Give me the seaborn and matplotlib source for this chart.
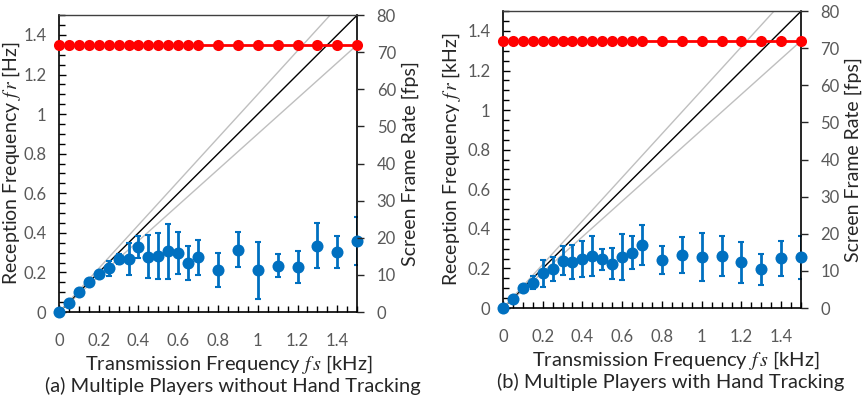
import numpy as np
import pandas as pd
import seaborn as sns
from matplotlib import pyplot as plt
from matplotlib.ticker import MultipleLocator

# transmission frequencies [kHz]
fs = [0, 0.05, 0.1, 0.15, 0.2, 0.25, 0.3, 0.35, 0.4, 0.45, 0.5, 0.55, 0.6, 0.65, 0.7,
      0.8, 0.9, 1.0, 1.1, 1.2, 1.3, 1.4, 1.5]

# (a) without hand tracking
fr_a = [0, 0.047, 0.1, 0.15, 0.19, 0.22, 0.27, 0.267, 0.33, 0.28, 0.284, 0.306, 0.297, 0.247, 0.276,
        0.213, 0.314, 0.21, 0.235, 0.227, 0.336, 0.302, 0.36]
err_a = [0, 0, 0, 0, 0, 0.04, 0.025, 0.08, 0.055, 0.11, 0.115, 0.138, 0.105, 0.085, 0.09,
         0.085, 0.088, 0.142, 0.057, 0.082, 0.113, 0.08, 0.12]
fps_a = [72] * 23

# (b) with hand tracking
fr_b = [0, 0.047, 0.103, 0.129, 0.175, 0.197, 0.239, 0.234, 0.247, 0.263, 0.247, 0.225, 0.259, 0.28, 0.319,
        0.242, 0.268, 0.259, 0.263, 0.231, 0.195, 0.251, 0.256]
err_b = [0, 0, 0, 0.034, 0.068, 0.062, 0.074, 0.085, 0.091, 0.103, 0.053, 0.077, 0.117, 0.082, 0.102,
         0.072, 0.09, 0.12, 0.102, 0.104, 0.077, 0.09, 0.11]
fps_b = [72] * 23

ref_slopes = [0.9, 1.0, 1.1]
ref_colors = ['#BFBFBF', 'black', '#BFBFBF']
ref_x = np.array([0, 1.5])

sns.set_style('ticks')
plt.rcParams['font.family'] = ['Lato', 'DejaVu Sans']
plt.rcParams['mathtext.fontset'] = 'stix'

BLUE = '#0070C0'
RED = '#FF0000'
GRAY = '#595959'

fig = plt.figure(figsize=(8.67, 3.98), dpi=100)
panels = [
    ([0.068, 0.216, 0.344, 0.746], fr_a, err_a, fps_a, '[Hz]',
     '(a) Multiple Players without Hand Tracking', 229, 365, 233, 386, -0.122, 1.150),
    ([0.580, 0.226, 0.344, 0.746], fr_b, err_b, fps_b, '[kHz]',
     '(b) Multiple Players with Hand Tracking', 676, 361, 671, 382, -0.134, 1.147),
]

for rect, fr, err, fps_vals, unit, caption, xlx, xly, cx, cy, ylx, y2x in panels:
    ax = fig.add_axes(rect)
    df = pd.DataFrame({'fs': fs, 'fr': fr, 'err': err, 'fps': fps_vals})

    for s, c in zip(ref_slopes, ref_colors):
        ax.plot(ref_x, s * ref_x, color=c, linewidth=1.0, zorder=1)

    ax.errorbar(df['fs'], df['fr'], yerr=df['err'], fmt='none', ecolor=BLUE,
                elinewidth=2, capsize=2.5, capthick=1.5, zorder=2)
    sns.scatterplot(data=df, x='fs', y='fr', ax=ax, color=BLUE, s=75,
                    edgecolor=BLUE, linewidth=0, zorder=3, clip_on=False)

    ax.set_xlim(0, 1.5)
    ax.set_ylim(0, 1.5)
    ax.xaxis.set_major_locator(MultipleLocator(0.2))
    ax.xaxis.set_minor_locator(MultipleLocator(0.05))
    ax.yaxis.set_major_locator(MultipleLocator(0.2))
    ax.yaxis.set_minor_locator(MultipleLocator(0.05))
    ax.set_xticklabels(['0' if v == 0 else ('1' if abs(v - 1) < 1e-9 else f'{v:.1f}')
                        for v in ax.get_xticks()])
    ax.set_yticklabels(['0' if v == 0 else ('1' if abs(v - 1) < 1e-9 else f'{v:.1f}')
                        for v in ax.get_yticks()])
    ax.tick_params(which='both', direction='in', colors='black', labelcolor=GRAY,
                   labelsize=12, width=1)
    ax.tick_params(which='major', length=5)
    ax.tick_params(which='minor', length=4)
    ax.tick_params(axis='x', pad=15)
    ax.tick_params(axis='y', pad=9)
    for sp in ax.spines.values():
        sp.set_visible(True)
        sp.set_linewidth(1.2)
        sp.set_color('black')
    ax.spines['top'].set_color('#404040')
    ax.spines['top'].set_linewidth(1)
    ax.set_xlabel('')
    ax.set_ylabel('Reception Frequency $f\\,r$ ' + unit, fontsize=14)
    ax.yaxis.set_label_coords(ylx, 0.5)

    ax2 = ax.twinx()
    sns.lineplot(data=df, x='fs', y='fps', ax=ax2, color=RED, linewidth=2,
                 marker='o', markersize=8, markeredgewidth=0, zorder=4, clip_on=False)
    ax2.set_ylim(0, 80)
    ax2.yaxis.set_major_locator(MultipleLocator(10))
    ax2.tick_params(axis='y', direction='out', length=5, width=1, pad=9,
                    labelcolor=GRAY, labelsize=12)
    ax2.set_xlabel('')
    ax2.set_ylabel('Screen Frame Rate [fps]', fontsize=14)
    ax2.yaxis.set_label_coords(y2x, 0.5)
    for sp in ax2.spines.values():
        sp.set_visible(False)

    fig.text(xlx / 867, 1 - xly / 398, 'Transmission Frequency $f\\,s$ [kHz]',
             ha='center', va='center', fontsize=14.5)
    fig.text(cx / 867, 1 - cy / 398, caption, ha='center', va='center', fontsize=14.5)

plt.savefig('out.png', dpi=100)
plt.close()
